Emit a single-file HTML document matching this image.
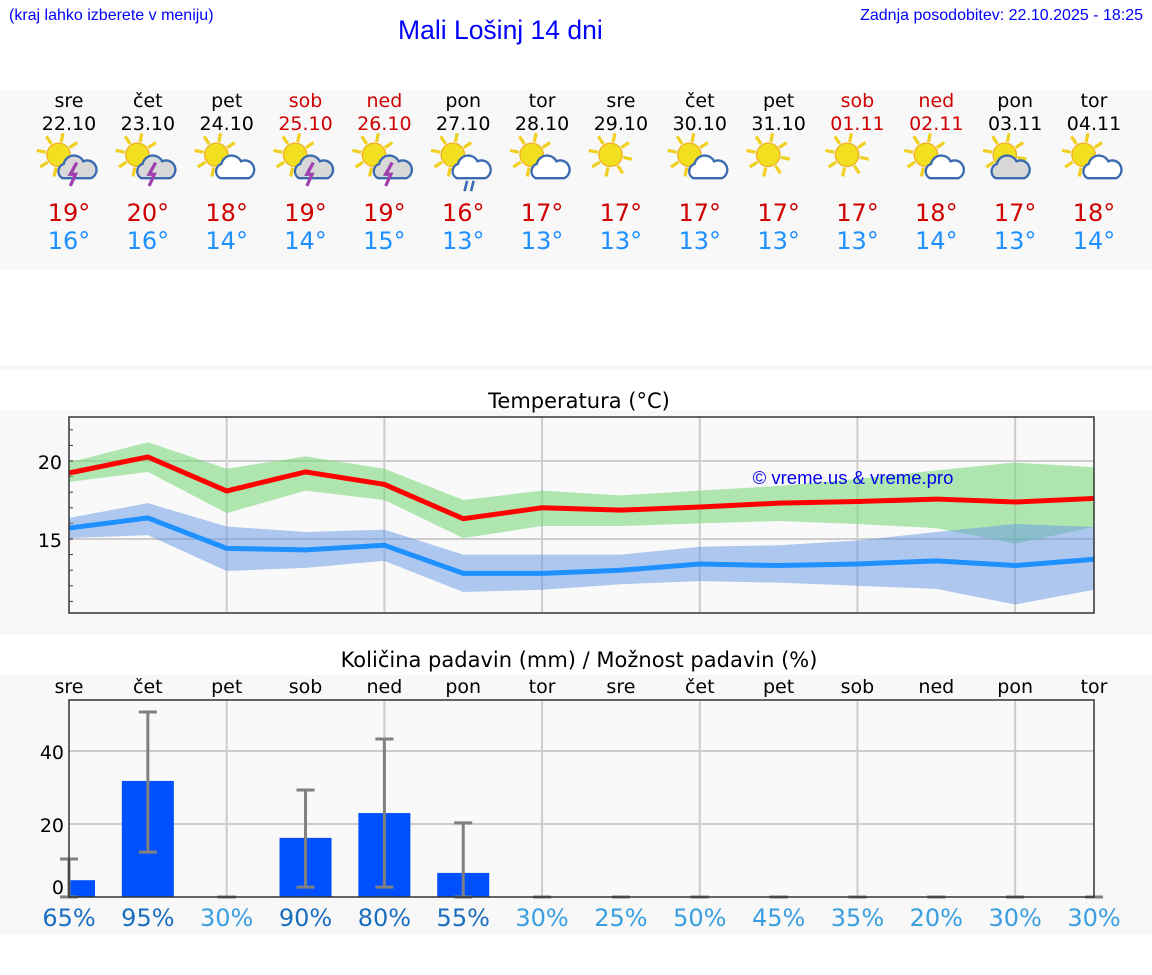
<!DOCTYPE html>
<html><head><meta charset="utf-8"><style>
body{margin:0;width:1152px;height:975px;background:#fff;font-family:"DejaVu Sans","Liberation Sans",sans-serif;position:relative;overflow:hidden}
.a{position:absolute}
</style></head><body>
<div class="a" style="left:9px;top:7px;font:16px 'Liberation Sans',sans-serif;color:#00f">(kraj lahko izberete v meniju)</div>
<div class="a" style="left:398px;top:15px;font:26.5px 'Liberation Sans',sans-serif;color:#00f">Mali Lošinj 14 dni</div>
<div class="a" style="right:9px;top:7px;font:16px 'Liberation Sans',sans-serif;color:#00f">Zadnja posodobitev: 22.10.2025 - 18:25</div>
<svg id="s" class="a" style="left:0;top:0" width="1152" height="975"></svg>
<script>
const days=["sre","čet","pet","sob","ned","pon","tor","sre","čet","pet","sob","ned","pon","tor"];
const dates=["22.10","23.10","24.10","25.10","26.10","27.10","28.10","29.10","30.10","31.10","01.11","02.11","03.11","04.11"];
const weekend=[0,0,0,1,1,0,0,0,0,0,1,1,0,0];
const icons=["storm","storm","cloud","storm","storm","rain","cloud","sun","cloud","sun","sun","cloud","cloudy","cloud"];
const hiT=[19,20,18,19,19,16,17,17,17,17,17,18,17,18];
const loT=[16,16,14,14,15,13,13,13,13,13,13,14,13,14];
const maxLine=[19.23,20.26,18.08,19.3,18.5,16.3,17.0,16.85,17.05,17.3,17.4,17.56,17.37,17.6];
const maxHi=[19.9,21.2,19.5,20.3,19.5,17.5,18.1,17.8,18.1,18.4,18.85,19.4,19.9,19.6];
const maxLo=[18.65,19.3,16.66,18.1,17.5,15.06,15.83,15.83,16.0,16.15,15.96,15.7,14.7,15.77];
const minLine=[15.7,16.35,14.4,14.3,14.6,12.8,12.8,13.0,13.4,13.3,13.4,13.6,13.3,13.7];
const minHi=[16.35,17.3,15.8,15.45,15.6,14.0,14.0,14.0,14.5,14.6,14.9,15.45,15.96,15.77];
const minLo=[15.06,15.25,12.95,13.15,13.6,11.6,11.75,12.1,12.3,12.2,12.0,11.8,10.8,11.75];
const precip=[4.6,31.8,0,16.2,23,6.6,0,0,0,0,0,0,0,0];
const errHi=[10.4,50.7,0,29.3,43.3,20.3,0,0,0,0,0,0,0,0];
const errLo=[0,12.3,0,2.7,2.7,0,0,0,0,0,0,0,0,0];
const prob=[65,95,30,90,80,55,30,25,50,45,35,20,30,30];
const tempTicks=[15,20];
const precTicks=[0,20,40];

const S=document.getElementById('s');const NS="http://www.w3.org/2000/svg";
function E(t,a,p){const e=document.createElementNS(NS,t);for(const k in a)e.setAttribute(k,a[k]);(p||S).appendChild(e);return e}
const X0=69,X1=1094;
const xs=i=>X0+i*(X1-X0)/13;
const ty=v=>461+(20-v)*15.6;
const py=v=>897-v*3.65;
let r=E('rect',{x:0,y:90,width:1152,height:180,fill:'#f8f8f8'});
r=E('rect',{x:0,y:365,width:1152,height:5,fill:'#f8f8f8'});
r=E('rect',{x:0,y:410,width:1152,height:225,fill:'#f8f8f8'});
r=E('rect',{x:0,y:675,width:1152,height:260,fill:'#f8f8f8'});
function txt(x,y,s,sz,c,name,anc){const t=E('text',{x:x,y:y,'font-size':sz,fill:c,'text-anchor':anc||'middle'});t.textContent=s;return t}
function icon(cx,cy,type){
 const g=E('g',{transform:`translate(${cx} ${cy}) scale(1.3) translate(${-cx} ${-cy})`});
 const sx=cx-8,sy=cy-4;
 for(let k=0;k<8;k++){const a=k*Math.PI/4+0.2;E('line',{x1:sx+Math.cos(a)*10,y1:sy+Math.sin(a)*10,x2:sx+Math.cos(a)*17,y2:sy+Math.sin(a)*17,stroke:'#f0d020','stroke-width':2.5},g)}
 E('circle',{cx:sx,cy:sy,r:9,fill:'#f2e020',stroke:'#f0b020','stroke-width':1},g);
 if(type==='sun')return;
 const fill=(type==='storm'||type==='cloudy')?'#d8d8d8':'#fff';
 const ox=type==='cloudy'?-6:4, oy=6;
 E('path',{d:`M${cx+ox-9} ${cy+oy+8} a6 6 0 0 1 1-11 a8 8 0 0 1 15-2 a6 6 0 0 1 6 13 z`,fill:fill,stroke:'#3a6ab0','stroke-width':1.8},g);
 if(type==='storm')E('path',{d:`M${cx+6} ${cy+2} l-5 9 h4 l-4 9`,fill:'none',stroke:'#a040b0','stroke-width':2.5},g);
 if(type==='rain'){E('line',{x1:cx+3,y1:cy+16,x2:cx+1,y2:cy+24,stroke:'#3a6ab0','stroke-width':2},g);E('line',{x1:cx+8,y1:cy+16,x2:cx+6,y2:cy+24,stroke:'#3a6ab0','stroke-width':2},g)}
}
for(let i=0;i<14;i++){
 const x=xs(i),c=weekend[i]?'#d00000':'#000';
 txt(x,107,days[i],19,c,'day-name');
 txt(x,130,dates[i],19,c,'day-date');
 icon(x,160,icons[i]);
 txt(x,221,hiT[i]+'°',24,'#d00000','max-temp');
 txt(x,249,loT[i]+'°',24,'#1e90ff','min-temp');
}
txt(579,408,'Temperatura (°C)',21,'#000','temperature-title');
const TY0=417,TY1=613;
E('rect',{x:X0,y:TY0,width:X1-X0,height:TY1-TY0,fill:'#f9f9f9'});
for(let i=2;i<14;i+=2)E('line',{x1:xs(i),y1:TY0,x2:xs(i),y2:TY1,stroke:'#ccc','stroke-width':2});
tempTicks.forEach(v=>{E('line',{x1:X0,y1:ty(v),x2:X1,y2:ty(v),stroke:'#ccc','stroke-width':2});txt(62,ty(v)+8,String(v),19,'#000','temperature-tick','end')});
for(let v=11;v<=22;v++)E('line',{x1:X0,y1:ty(v),x2:X0+4,y2:ty(v),stroke:'#333'});
function band(hi,lo,col,name){let d='';hi.forEach((v,i)=>d+=(i?'L':'M')+xs(i)+' '+ty(v));for(let i=lo.length-1;i>=0;i--)d+='L'+xs(i)+' '+ty(lo[i]);const p=E('path',{d:d+'Z',fill:col});}
function line(a,col,name){const p=E('polyline',{points:a.map((v,i)=>xs(i)+','+ty(v)).join(' '),fill:'none',stroke:col,'stroke-width':5});}
band(maxHi,maxLo,'rgba(120,215,120,0.58)','max-temp-range');
band(minHi,minLo,'rgba(100,150,230,0.5)','min-temp-range');
line(maxLine,'#ff0000','max-temp-line');line(minLine,'#1e90ff','min-temp-line');
txt(853,484,'© vreme.us & vreme.pro',18.5,'#0000ee','watermark').setAttribute('font-family','Liberation Sans');
E('rect',{x:X0,y:TY0,width:X1-X0,height:TY1-TY0,fill:'none',stroke:'#333','stroke-width':1.5});
txt(579,667,'Količina padavin (mm) / Možnost padavin (%)',21,'#000','precipitation-title');
const PY0=700,PY1=897;
E('rect',{x:X0,y:PY0,width:X1-X0,height:PY1-PY0,fill:'#f9f9f9'});
for(let i=2;i<14;i+=2)E('line',{x1:xs(i),y1:PY0,x2:xs(i),y2:PY1,stroke:'#ccc','stroke-width':2});
precTicks.forEach(v=>{if(v>0)E('line',{x1:X0,y1:py(v),x2:X1,y2:py(v),stroke:'#ccc','stroke-width':2});txt(64,v?py(v)+8:894,String(v),19,'#000','precipitation-tick','end')});
for(let i=0;i<14;i++){
 txt(xs(i),693,days[i],19,'#000','precip-day-name');
 if(precip[i]>0){let x=xs(i)-26,w=52;if(x<X0){w-=X0-x;x=X0}const b=E('rect',{x:x,y:py(precip[i]),width:w,height:py(0)-py(precip[i]),fill:'#0050ff'});}
 const g=E('g',{stroke:'#808080','stroke-width':3});
 E('line',{x1:xs(i),y1:py(errHi[i]),x2:xs(i),y2:py(errLo[i])},g);
 E('line',{x1:xs(i)-9,y1:py(errHi[i]),x2:xs(i)+9,y2:py(errHi[i])},g);
 E('line',{x1:xs(i)-9,y1:py(errLo[i]),x2:xs(i)+9,y2:py(errLo[i])},g);
 txt(xs(i),926,prob[i]+'%',24,prob[i]>=55?'#1a6ec0':'#3a9ee0','precip-probability');
}
E('rect',{x:X0,y:PY0,width:X1-X0,height:PY1-PY0,fill:'none',stroke:'#333','stroke-width':1.5});
</script>
</body></html>
